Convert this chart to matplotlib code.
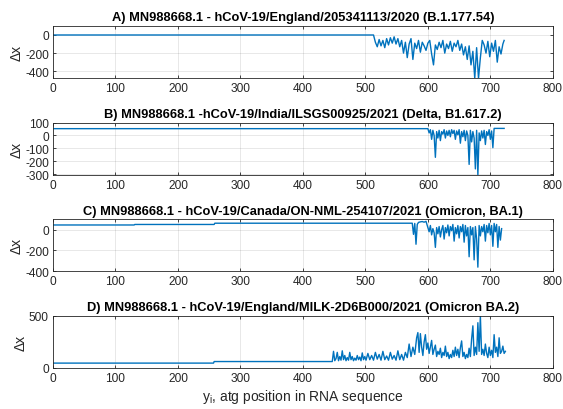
import matplotlib
matplotlib.use('Agg')
import matplotlib.pyplot as plt

plt.rcParams['font.family'] = ['Liberation Sans', 'DejaVu Sans']
plt.rcParams['axes.unicode_minus'] = False

LINE_COLOR = '#0072BD'

TITLES = [
    'A) MN988668.1 - hCoV-19/England/205341113/2020 (B.1.177.54)',
    'B) MN988668.1 -hCoV-19/India/ILSGS00925/2021 (Delta, B1.617.2)',
    'C) MN988668.1 - hCoV-19/Canada/ON-NML-254107/2021 (Omicron, BA.1)',
    'D) MN988668.1 - hCoV-19/England/MILK-2D6B000/2021 (Omicron BA.2)',
]

# panel A
A_x = [0, 513, 516, 519, 522, 525, 528, 531, 534, 537, 540, 543, 546, 549, 552, 555, 558,
       561, 564, 567, 570, 573, 576, 579, 582, 585, 588, 591, 594, 597, 600, 603, 606, 609,
       612, 615, 618, 621, 624, 627, 630, 633, 636, 639, 642, 645, 648, 651, 654, 657, 660,
       663, 666, 669, 672, 675, 678, 681, 684, 687, 690, 693, 696, 699, 702, 705, 708, 711,
       714, 717, 720, 722]
A_y = [0, 0, -80, -130, -50, -120, -60, -140, -40, -110, -30, -90, -20, -100, -40, -130, -60,
       -200, -80, -250, -100, -40, -270, -90, -150, -60, -190, -80, -120, -170, -90, -60, -210, -330,
       -110, -160, -80, -140, -60, -200, -100, -150, -70, -180, -90, -130, -60, -170, -100, -220, -130,
       -270, -120, -330, -180, -480, -140, -480, -250, -60, -110, -200, -70, -240, -90, -180, -60, -300,
       -130, -210, -100, -60]

# panel B
B_x = [0, 600, 602, 604, 606, 608, 610, 612, 614, 616, 618, 620, 622, 624, 626, 628, 630,
       632, 634, 636, 638, 640, 642, 644, 646, 648, 650, 652, 654, 656, 658, 660, 662, 664,
       666, 668, 670, 672, 674, 676, 678, 680, 682, 684, 686, 688, 690, 692, 694, 696, 698,
       700, 702, 704, 706, 722]
B_y = [53, 53, 20, 45, -30, 40, 0, -170, 30, -20, 40, -40, 30, 10, 45, -20, 35,
       0, 40, -10, 45, 15, 40, -30, 35, 5, 45, -60, 30, -10, 40, -40, 35, 0,
       -225, 40, -50, 30, -20, -260, 40, -310, 20, -40, 35, -20, 40, -70, 30, 0, 45,
       -30, 35, -95, 55, 55]

# panel C
C_x = [0, 130, 131, 258, 259, 575, 577, 579, 581, 583, 585, 588, 591, 594, 597,
       600, 602, 604, 606, 608, 610, 612, 614, 616, 618, 620, 622, 624, 626, 628, 630,
       632, 634, 636, 638, 640, 642, 644, 646, 648, 650, 652, 654, 656, 658, 660, 662,
       664, 666, 668, 670, 672, 674, 676, 678, 680, 682, 684, 686, 688, 690, 692, 694,
       696, 698, 700, 702, 704, 706, 708, 710, 712, 714, 716, 718]
C_y = [45, 45, 50, 50, 62, 62, -45, 60, -140, 50, 70, 75, 78, 72, 80,
       20, -20, 40, -50, 10, -30, -170, 20, -40, 30, -70, 0, 40, -90, 20, -30,
       45, -60, 30, -10, 50, -110, 20, -40, 40, -80, 30, -20, 50, -120, 40, -60,
       20, -260, 30, -50, 20, -290, 30, -90, -360, 40, -60, 30, -20, 50, -110, 40,
       -30, 60, -50, 40, -160, 60, -20, 50, -170, 30, -100, 10]

# panel D
D_x = [0, 257, 258, 447, 449, 451, 453, 455, 457, 459, 461, 463, 465, 467, 469, 471,
       473, 475, 477, 479, 481, 483, 485, 487, 489, 491, 493, 495, 497, 499, 501, 504,
       507, 510, 513, 516, 519, 522, 525, 528, 531, 534, 537, 540, 543, 546, 549, 552,
       555, 558, 561, 564, 567, 570, 573, 576, 579, 582, 584, 586, 588, 590, 592, 594,
       596, 598, 600, 602, 604, 606, 608, 610, 612, 614, 616, 618, 620, 622, 624, 626,
       628, 630, 632, 634, 636, 638, 640, 642, 644, 646, 648, 650, 652, 654, 656, 658,
       660, 662, 664, 666, 668, 670, 672, 674, 676, 678, 680, 682, 684, 686, 688, 690,
       692, 694, 696, 698, 700, 702, 704, 706, 708, 710, 712, 714, 716, 718, 720, 722, 724]
D_y = [47, 47, 62, 62, 160, 70, 90, 150, 70, 110, 75, 165, 80, 120, 70, 100,
       75, 150, 80, 110, 70, 95, 75, 120, 80, 105, 70, 145, 80, 110, 75, 140,
       80, 120, 75, 150, 85, 130, 75, 160, 80, 115, 75, 150, 85, 120, 75, 165,
       80, 130, 75, 150, 100, 230, 110, 200, 130, 290, 340, 150, 330, 200, 120, 250,
       320, 180, 240, 140, 200, 265, 130, 180, 220, 110, 160, 130, 190, 100, 150, 120,
       210, 110, 150, 90, 130, 100, 170, 110, 200, 120, 180, 100, 195, 260, 110, 150,
       90, 130, 100, 190, 110, 280, 405, 120, 200, 130, 435, 160, 500, 130, 180, 120,
       230, 140, 100, 200, 120, 170, 100, 320, 150, 200, 110, 290, 140, 160, 210, 140, 160]

SERIES = [(A_x, A_y), (B_x, B_y), (C_x, C_y), (D_x, D_y)]
YLIMS = [(-475, 100), (-305, 100), (-400, 100), (0, 500)]
YTICKS = [[-400, -200, 0], [-300, -200, -100, 0, 100], [-400, -200, 0], [0, 500]]
XTICKS = [0, 100, 200, 300, 400, 500, 600, 700, 800]

fig = plt.figure(figsize=(5.63, 4.10), dpi=100)

bottoms = [0.8073, 0.5715, 0.3358, 0.1000]
for i, (xs, ys) in enumerate(SERIES):
    ax = fig.add_axes([0.094, bottoms[i], 0.888, 0.127])
    ax.plot(xs, ys, color=LINE_COLOR, linewidth=1.0)
    ax.set_xlim(0, 800)
    ax.set_ylim(*YLIMS[i])
    ax.set_xticks(XTICKS)
    ax.set_yticks(YTICKS[i])
    ax.grid(True, color='#262626', alpha=0.15, linewidth=0.5)
    ax.tick_params(direction='in', length=2.5, width=0.6, labelsize=8.6,
                   top=True, right=True, colors='#262626', pad=3)
    for s in ax.spines.values():
        s.set_color('#262626')
        s.set_linewidth(0.6)
    ax.set_title(TITLES[i], fontsize=9.3, fontweight='bold', pad=4)
    ax.set_ylabel('Δx', fontsize=10, labelpad=1, color='#262626')

ax.set_xlabel(r'$\mathregular{y_i}$, atg position in RNA sequence', fontsize=10,
              color='#262626', labelpad=2)

fig.savefig('out.png', dpi=100)
